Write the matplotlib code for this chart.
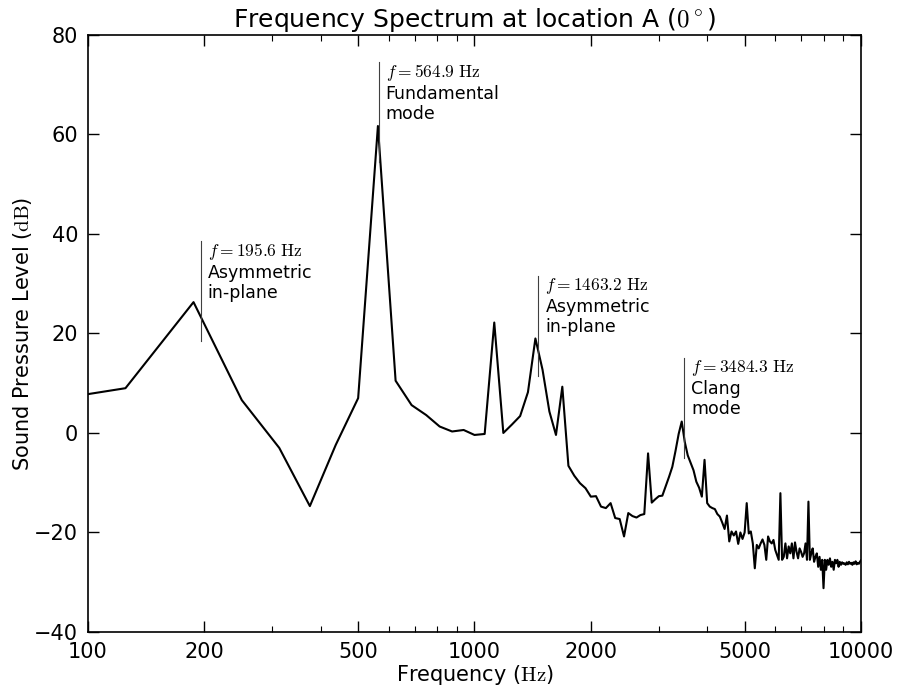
import numpy as np
import matplotlib
matplotlib.use('Agg')
import matplotlib.pyplot as plt
from matplotlib.ticker import FixedLocator, FixedFormatter, NullFormatter

# FFT bin width (Hz)
bin_width = 62.5

# sound pressure level for each bin (dB), bins 1..160
spl = [
    5.3, 9.0, 26.3, 6.6, -3.0, -14.7, -2.4, 7.0, 61.7, 10.5,
    5.6, 3.6, 1.3, 0.3, 0.6, -0.4, -0.2, 22.2, 0.0, 1.7,
    3.4, 8.2, 19.0, 12.7, 4.3, -0.4, 9.3, -6.6, -8.6, -10.1,
    -11.1, -12.8, -12.7, -14.8, -15.1, -14.1, -17.1, -17.3, -20.8, -16.1,
    -16.7, -17.0, -16.5, -16.3, -4.1, -14.0, -13.3, -12.7, -12.6, -10.7,
    -8.8, -6.8, -3.6, -0.2, 2.3, -1.8, -4.5, -6.0, -7.5, -9.8,
    -11.0, -12.8, -5.4, -14.1, -14.8, -15.1, -15.3, -16.3, -16.8, -18.0,
    -19.3, -16.6, -21.8, -19.8, -20.6, -19.8, -22.3, -20.0, -21.3, -20.0,
    -14.1, -20.2, -19.8, -22.2, -27.2, -22.5, -23.2, -22.2, -21.4, -22.5,
    -25.5, -20.8, -21.8, -22.2, -21.5, -23.5, -24.5, -25.5, -12.1, -25.5,
    -24.9, -22.2, -25.2, -22.8, -24.2, -22.2, -25.2, -22.0, -23.9, -25.2,
    -23.2, -23.9, -24.9, -24.2, -22.2, -25.5, -13.8, -25.5, -24.2, -23.2,
    -25.9, -24.9, -24.2, -26.9, -24.9, -27.5, -25.5, -31.2, -25.5, -27.5,
    -25.5, -26.5, -25.2, -26.9, -25.9, -27.5, -25.5, -26.2, -25.5, -26.9,
    -25.9, -26.5, -26.0, -26.3, -26.2, -26.5, -26.0, -26.4, -25.9, -26.3,
    -26.1, -26.5, -26.0, -26.3, -25.8, -26.4, -26.1, -26.3, -25.9, -25.6,
]
freq = bin_width * np.arange(1, len(spl) + 1)

# annotated modes
mode_freq = [195.6, 564.9, 1463.2, 3484.3]
mode_peak = [26.0, 62.0, 19.0, 2.5]
mode_name = ["Asymmetric\nin-plane", "Fundamental\nmode", "Asymmetric\nin-plane", "Clang\nmode"]

x_ticks = [100, 200, 500, 1000, 2000, 5000, 10000]
x_minor = [300, 400, 600, 700, 800, 900, 3000, 4000, 6000, 7000, 8000, 9000]
y_ticks = [-40, -20, 0, 20, 40, 60, 80]

plt.rcParams['mathtext.fontset'] = 'cm'
plt.rcParams['font.family'] = ['DejaVu Sans']

fig = plt.figure(figsize=(8.99, 6.87), dpi=100)
ax = fig.add_axes([0.0979, 0.0801, 0.8598, 0.869])

ax.plot(freq, spl, color='k', lw=1.5)

for f, p, name in zip(mode_freq, mode_peak, mode_name):
    lo, hi = p - 7.5, p + 12.5
    ax.plot([f, f], [lo, hi], color='0.25', lw=0.8)
    ax.text(f * 1.043, hi, r"$f = %.1f\ \mathrm{Hz}$" % f + "\n" + name,
            ha='left', va='top', fontsize=12.5, linespacing=1.12)

ax.set_xscale('log')
ax.set_xlim(100, 10000)
ax.set_ylim(-40, 80)
ax.xaxis.set_major_locator(FixedLocator(x_ticks))
ax.xaxis.set_major_formatter(FixedFormatter([str(t) for t in x_ticks]))
ax.xaxis.set_minor_locator(FixedLocator(x_minor))
ax.xaxis.set_minor_formatter(NullFormatter())
ax.yaxis.set_major_locator(FixedLocator(y_ticks))

ax.tick_params(which='both', direction='in', top=True, right=True, labelsize=15, pad=7)
ax.tick_params(which='major', length=8, width=1)
ax.tick_params(which='minor', length=4, width=0.8)
for s in ax.spines.values():
    s.set_linewidth(1.2)

ax.set_title(r"Frequency Spectrum at location A ($0^\circ$)", fontsize=18)
ax.set_xlabel(r"Frequency ($\mathrm{Hz}$)", fontsize=15, labelpad=1)
ax.set_ylabel(r"Sound Pressure Level ($\mathrm{dB}$)", fontsize=15, labelpad=0.5)

fig.savefig("out.png", dpi=100)
